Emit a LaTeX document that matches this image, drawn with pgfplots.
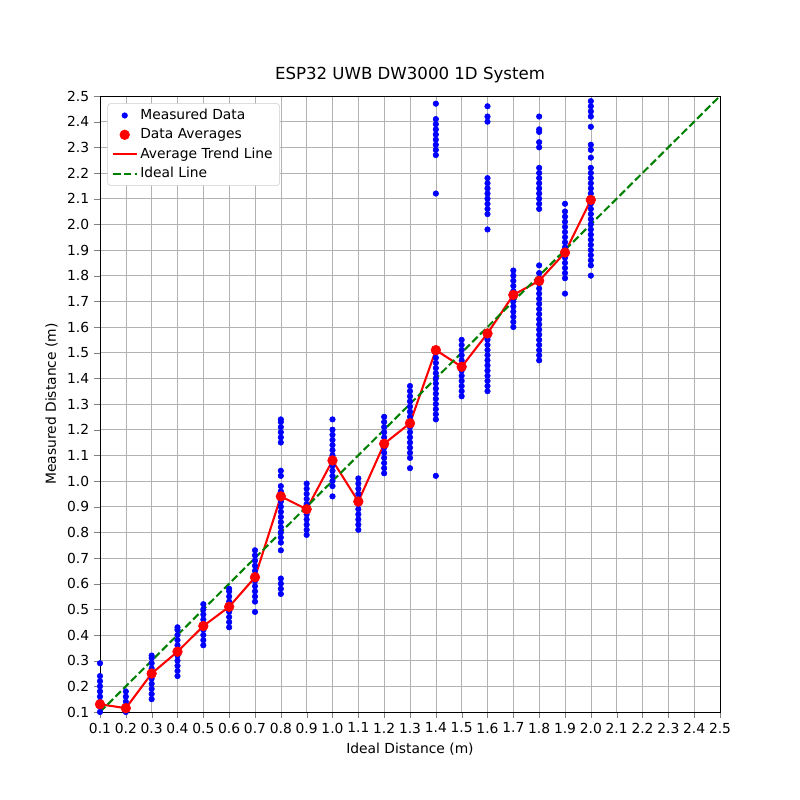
\documentclass[border=0pt]{standalone}
\usepackage{pgfplots}
\pgfplotsset{compat=1.18}
\usepackage{fontspec}
\setmainfont{DejaVu Sans}
\begin{document}
\fontsize{10}{12}\selectfont
\begin{tikzpicture}
\path (-1in,-0.88in) rectangle (7.0in,7.12in);
\begin{axis}[scale only axis, width=6.2in, height=6.16in,
 xmin=0.1,xmax=2.5,ymin=0.1,ymax=2.5,
 xtick={0.1,0.2,...,2.51}, ytick={0.1,0.2,...,2.51},
 tick align=outside, tick pos=left,
 /pgf/number format/assume math mode=true,
 xticklabel style={/pgf/number format/fixed,/pgf/number format/fixed zerofill,/pgf/number format/precision=1},
 yticklabel style={/pgf/number format/fixed,/pgf/number format/fixed zerofill,/pgf/number format/precision=1},
 grid=major, grid style={gray!60},
 title={ESP32 UWB DW3000 1D System},
 title style={font=\fontsize{12}{14}\selectfont},
 xlabel={Ideal Distance (m)}, ylabel={Measured Distance (m)},
 legend style={at={(0.012,0.988)}, anchor=north west, draw=gray!40, rounded corners=2pt, font=\fontsize{10}{12}\selectfont, row sep=1pt},
 legend cell align=left,
 tick label style={font=\fontsize{10}{12}\selectfont},
 clip=false]
\addplot[only marks, mark=*, mark size=2pt, color=blue] coordinates {
(0.1,0.10)(0.1,0.12)(0.1,0.14)(0.1,0.16)(0.1,0.18)(0.1,0.20)(0.1,0.22)(0.1,0.24)(0.1,0.29)
(0.2,0.10)(0.2,0.12)(0.2,0.14)(0.2,0.16)(0.2,0.18)
(0.3,0.15)(0.3,0.17)(0.3,0.19)(0.3,0.21)(0.3,0.23)(0.3,0.25)(0.3,0.27)(0.3,0.29)(0.3,0.31)(0.3,0.32)
(0.4,0.24)(0.4,0.26)(0.4,0.28)(0.4,0.30)(0.4,0.32)(0.4,0.34)(0.4,0.36)(0.4,0.38)(0.4,0.40)(0.4,0.42)(0.4,0.43)
(0.5,0.36)(0.5,0.38)(0.5,0.40)(0.5,0.42)(0.5,0.44)(0.5,0.46)(0.5,0.48)(0.5,0.50)(0.5,0.52)
(0.6,0.43)(0.6,0.45)(0.6,0.47)(0.6,0.49)(0.6,0.51)(0.6,0.53)(0.6,0.55)(0.6,0.57)(0.6,0.58)
(0.7,0.49)(0.7,0.53)(0.7,0.55)(0.7,0.57)(0.7,0.59)(0.7,0.61)(0.7,0.63)(0.7,0.65)(0.7,0.67)(0.7,0.69)(0.7,0.71)(0.7,0.73)
(0.8,0.56)(0.8,0.58)(0.8,0.60)(0.8,0.62)(0.8,0.73)(0.8,0.76)(0.8,0.78)(0.8,0.80)(0.8,0.82)(0.8,0.84)(0.8,0.86)(0.8,0.88)(0.8,0.90)(0.8,0.92)(0.8,0.94)(0.8,0.96)(0.8,0.98)(0.8,1.02)(0.8,1.04)(0.8,1.15)(0.8,1.17)(0.8,1.19)(0.8,1.21)(0.8,1.23)(0.8,1.24)
(0.9,0.79)(0.9,0.81)(0.9,0.83)(0.9,0.85)(0.9,0.87)(0.9,0.89)(0.9,0.91)(0.9,0.93)(0.9,0.95)(0.9,0.97)(0.9,0.99)
(1.0,0.94)(1.0,0.98)(1.0,1.00)(1.0,1.02)(1.0,1.04)(1.0,1.06)(1.0,1.08)(1.0,1.10)(1.0,1.12)(1.0,1.14)(1.0,1.16)(1.0,1.18)(1.0,1.20)(1.0,1.24)
(1.1,0.81)(1.1,0.83)(1.1,0.85)(1.1,0.87)(1.1,0.89)(1.1,0.91)(1.1,0.93)(1.1,0.95)(1.1,0.97)(1.1,0.99)(1.1,1.01)
(1.2,1.03)(1.2,1.05)(1.2,1.07)(1.2,1.09)(1.2,1.11)(1.2,1.13)(1.2,1.15)(1.2,1.17)(1.2,1.19)(1.2,1.21)(1.2,1.23)(1.2,1.25)
(1.3,1.05)(1.3,1.09)(1.3,1.11)(1.3,1.13)(1.3,1.15)(1.3,1.17)(1.3,1.19)(1.3,1.21)(1.3,1.23)(1.3,1.25)(1.3,1.27)(1.3,1.29)(1.3,1.31)(1.3,1.33)(1.3,1.35)(1.3,1.37)
(1.4,1.02)(1.4,1.24)(1.4,1.26)(1.4,1.28)(1.4,1.30)(1.4,1.32)(1.4,1.34)(1.4,1.36)(1.4,1.38)(1.4,1.40)(1.4,1.42)(1.4,1.44)(1.4,1.46)(1.4,1.48)(1.4,1.50)(1.4,2.12)(1.4,2.27)(1.4,2.29)(1.4,2.31)(1.4,2.33)(1.4,2.35)(1.4,2.37)(1.4,2.39)(1.4,2.41)(1.4,2.47)
(1.5,1.33)(1.5,1.35)(1.5,1.37)(1.5,1.39)(1.5,1.41)(1.5,1.43)(1.5,1.45)(1.5,1.47)(1.5,1.49)(1.5,1.51)(1.5,1.53)(1.5,1.55)
(1.6,1.35)(1.6,1.37)(1.6,1.39)(1.6,1.41)(1.6,1.43)(1.6,1.45)(1.6,1.47)(1.6,1.49)(1.6,1.51)(1.6,1.53)(1.6,1.55)(1.6,1.56)(1.6,1.98)(1.6,2.04)(1.6,2.06)(1.6,2.08)(1.6,2.10)(1.6,2.12)(1.6,2.14)(1.6,2.16)(1.6,2.18)(1.6,2.40)(1.6,2.42)(1.6,2.46)
(1.7,1.60)(1.7,1.62)(1.7,1.64)(1.7,1.66)(1.7,1.68)(1.7,1.70)(1.7,1.72)(1.7,1.74)(1.7,1.76)(1.7,1.78)(1.7,1.80)(1.7,1.82)
(1.8,1.47)(1.8,1.49)(1.8,1.51)(1.8,1.53)(1.8,1.55)(1.8,1.57)(1.8,1.59)(1.8,1.61)(1.8,1.63)(1.8,1.65)(1.8,1.67)(1.8,1.69)(1.8,1.71)(1.8,1.73)(1.8,1.75)(1.8,1.77)(1.8,1.79)(1.8,1.81)(1.8,1.84)(1.8,2.06)(1.8,2.08)(1.8,2.10)(1.8,2.12)(1.8,2.14)(1.8,2.16)(1.8,2.18)(1.8,2.20)(1.8,2.22)(1.8,2.30)(1.8,2.32)(1.8,2.36)(1.8,2.37)(1.8,2.42)
(1.9,1.73)(1.9,1.79)(1.9,1.81)(1.9,1.83)(1.9,1.85)(1.9,1.87)(1.9,1.89)(1.9,1.91)(1.9,1.93)(1.9,1.95)(1.9,1.97)(1.9,1.99)(1.9,2.01)(1.9,2.03)(1.9,2.05)(1.9,2.08)
(2.0,1.80)(2.0,1.84)(2.0,1.86)(2.0,1.88)(2.0,1.90)(2.0,1.92)(2.0,1.94)(2.0,1.96)(2.0,1.98)(2.0,2.00)(2.0,2.02)(2.0,2.04)(2.0,2.06)(2.0,2.08)(2.0,2.10)(2.0,2.12)(2.0,2.14)(2.0,2.16)(2.0,2.18)(2.0,2.20)(2.0,2.22)(2.0,2.26)(2.0,2.29)(2.0,2.31)(2.0,2.38)(2.0,2.42)(2.0,2.44)(2.0,2.46)(2.0,2.48)
};
\addlegendentry{Measured Data}
\addplot[only marks, mark=*, mark size=3.5pt, color=red] coordinates {
(0.1,0.13)(0.2,0.115)(0.3,0.25)(0.4,0.335)(0.5,0.435)(0.6,0.51)(0.7,0.625)(0.8,0.94)(0.9,0.89)(1.0,1.08)(1.1,0.92)(1.2,1.145)(1.3,1.225)(1.4,1.51)(1.5,1.445)(1.6,1.575)(1.7,1.725)(1.8,1.78)(1.9,1.89)(2.0,2.095)};
\addlegendentry{Data Averages}
\addplot[red, line width=1.5pt, no marks] coordinates {
(0.1,0.13)(0.2,0.115)(0.3,0.25)(0.4,0.335)(0.5,0.435)(0.6,0.51)(0.7,0.625)(0.8,0.94)(0.9,0.89)(1.0,1.08)(1.1,0.92)(1.2,1.145)(1.3,1.225)(1.4,1.51)(1.5,1.445)(1.6,1.575)(1.7,1.725)(1.8,1.78)(1.9,1.89)(2.0,2.095)};
\addlegendentry{Average Trend Line}
\addplot[green!50!black, line width=1.5pt, dash pattern=on 5.5pt off 2.4pt, no marks] coordinates {(0.1,0.1)(2.5,2.5)};
\addlegendentry{Ideal Line}
\end{axis}
\end{tikzpicture}
\end{document}
